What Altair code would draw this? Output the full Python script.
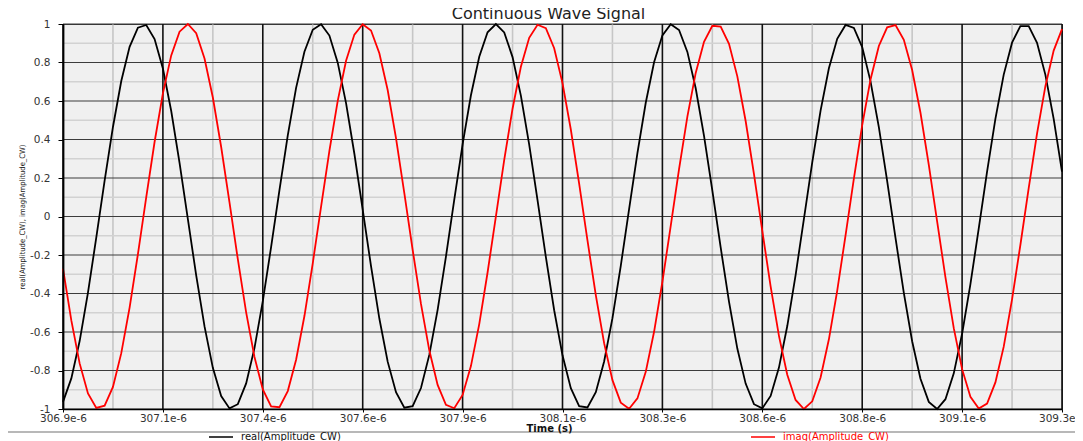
import altair as alt
import pandas as pd

# sample times in microseconds (20 ns sampling)
time_us = [
    306.90, 306.92, 306.94, 306.96, 306.98, 307.00, 307.02, 307.04, 307.06, 307.08,
    307.10, 307.12, 307.14, 307.16, 307.18, 307.20, 307.22, 307.24, 307.26, 307.28,
    307.30, 307.32, 307.34, 307.36, 307.38, 307.40, 307.42, 307.44, 307.46, 307.48,
    307.50, 307.52, 307.54, 307.56, 307.58, 307.60, 307.62, 307.64, 307.66, 307.68,
    307.70, 307.72, 307.74, 307.76, 307.78, 307.80, 307.82, 307.84, 307.86, 307.88,
    307.90, 307.92, 307.94, 307.96, 307.98, 308.00, 308.02, 308.04, 308.06, 308.08,
    308.10, 308.12, 308.14, 308.16, 308.18, 308.20, 308.22, 308.24, 308.26, 308.28,
    308.30, 308.32, 308.34, 308.36, 308.38, 308.40, 308.42, 308.44, 308.46, 308.48,
    308.50, 308.52, 308.54, 308.56, 308.58, 308.60, 308.62, 308.64, 308.66, 308.68,
    308.70, 308.72, 308.74, 308.76, 308.78, 308.80, 308.82, 308.84, 308.86, 308.88,
    308.90, 308.92, 308.94, 308.96, 308.98, 309.00, 309.02, 309.04, 309.06, 309.08,
    309.10, 309.12, 309.14, 309.16, 309.18, 309.20, 309.22, 309.24, 309.26, 309.28,
    309.30,
]

real_vals = [
    -0.963, -0.841, -0.647, -0.395, -0.109, 0.186, 0.465, 0.704, 0.881, 0.981,
    0.995, 0.922, 0.769, 0.548, 0.279, -0.014, -0.306, -0.571, -0.786, -0.933,
    -0.997, -0.975, -0.867, -0.684, -0.440, -0.158, 0.137, 0.421, 0.668, 0.856,
    0.970, 0.999, 0.940, 0.799, 0.589, 0.326, 0.036, -0.258, -0.530, -0.754,
    -0.913, -0.993, -0.985, -0.891, -0.719, -0.485, -0.208, 0.088, 0.375, 0.630,
    0.830, 0.957, 1.000, 0.956, 0.828, 0.628, 0.373, 0.085, -0.210, -0.487,
    -0.721, -0.892, -0.985, -0.992, -0.913, -0.753, -0.528, -0.256, 0.038, 0.329,
    0.591, 0.801, 0.941, 0.999, 0.969, 0.855, 0.666, 0.419, 0.135, -0.161,
    -0.442, -0.686, -0.868, -0.975, -0.997, -0.932, -0.785, -0.569, -0.304, -0.012,
    0.281, 0.550, 0.770, 0.923, 0.995, 0.980, 0.880, 0.702, 0.464, 0.184,
    -0.111, -0.397, -0.648, -0.843, -0.963, -1.000, -0.949, -0.815, -0.609, -0.351,
    -0.062, 0.233, 0.507, 0.737, 0.903, 0.989, 0.989, 0.902, 0.737, 0.507,
    0.233,
]

imag_vals = [
    -0.271, -0.540, -0.763, -0.919, -0.994, -0.983, -0.885, -0.710, -0.473, -0.195,
    0.101, 0.387, 0.640, 0.837, 0.960, 1.000, 0.952, 0.821, 0.618, 0.361,
    0.073, -0.222, -0.498, -0.730, -0.898, -0.987, -0.991, -0.907, -0.744, -0.517,
    -0.243, 0.051, 0.341, 0.601, 0.809, 0.945, 0.999, 0.966, 0.848, 0.657,
    0.407, 0.122, -0.173, -0.454, -0.695, -0.875, -0.978, -0.996, -0.927, -0.777,
    -0.559, -0.291, 0.001, 0.294, 0.560, 0.778, 0.928, 0.996, 0.978, 0.874,
    0.693, 0.452, 0.171, -0.124, -0.409, -0.658, -0.850, -0.967, -0.999, -0.945,
    -0.807, -0.599, -0.339, -0.049, 0.246, 0.519, 0.746, 0.908, 0.991, 0.987,
    0.897, 0.728, 0.496, 0.220, -0.075, -0.363, -0.620, -0.822, -0.953, -1.000,
    -0.960, -0.836, -0.638, -0.385, -0.098, 0.197, 0.475, 0.712, 0.886, 0.983,
    0.994, 0.918, 0.761, 0.539, 0.268, -0.025, -0.316, -0.580, -0.793, -0.937,
    -0.998, -0.972, -0.862, -0.676, -0.431, -0.148, 0.148, 0.431, 0.676, 0.862,
    0.973,
]

x_major = [306.9, 307.14, 307.38, 307.62, 307.86, 308.1, 308.34, 308.58, 308.82, 309.06, 309.3]
x_minor = [307.02, 307.26, 307.5, 307.74, 307.98, 308.22, 308.46, 308.7, 308.94, 309.18]
y_major = [-1, -0.8, -0.6, -0.4, -0.2, 0, 0.2, 0.4, 0.6, 0.8, 1]
y_minor = [-0.9, -0.7, -0.5, -0.3, -0.1, 0.1, 0.3, 0.5, 0.7, 0.9]

series_names = ["real(Amplitude_CW)", "imag(Amplitude_CW)"]
series_colors = ["#000000", "#ff0000"]
x_title = "Time (s)"
y_title = "real(Amplitude_CW), imag(Amplitude_CW)"

n = len(time_us)
df = pd.DataFrame({
    "t": time_us + time_us,
    "v": real_vals + imag_vals,
    "s": [series_names[0]] * n + [series_names[1]] * n,
})

xscale = alt.Scale(domain=[306.9, 309.3], nice=False, zero=False)
yscale = alt.Scale(domain=[-1, 1], nice=False, zero=False)

x_axis = alt.Axis(
    values=x_major, grid=False,
    labelExpr="format(datum.value, '.1f') + 'e-6'",
    labelFlush=False, labelOverlap=False,
    labelFont="DejaVu Sans", labelFontSize=10.5, labelColor="#333333",
    labelPadding=1, tickSize=3, tickColor="#000000",
    domainColor="#000000", domainWidth=1.6,
    titleFont="DejaVu Sans", titleFontSize=10, titleFontWeight="bold",
    titleColor="#111111", titleX=486, titleY=19,
    titleAlign="center", titleBaseline="middle", zindex=1,
)
y_axis = alt.Axis(
    values=y_major, grid=False,
    labelExpr="datum.value < 0 ? '-' + format(-datum.value, '.1~f') : format(datum.value, '.1~f')",
    labelFont="DejaVu Sans", labelFontSize=10.5, labelColor="#333333",
    labelPadding=8, tickSize=5, tickColor="#000000",
    domainColor="#000000", domainWidth=1.8,
    titleFont="Liberation Sans Narrow, DejaVu Sans Condensed, Liberation Sans",
    titleFontSize=7.6, titleFontWeight="normal", titleColor="#222222",
    titleX=-41, titleY=192.5, titleAngle=270,
    titleAlign="center", titleBaseline="middle", zindex=1,
)

def xenc(field):
    return alt.X(field, scale=xscale, axis=x_axis, title=x_title)

def yenc(field):
    return alt.Y(field, scale=yscale, axis=y_axis, title=y_title)

minor_v = alt.Chart(pd.DataFrame({"x": x_minor})).mark_rule(
    color="#c6c6c6", strokeWidth=1.6
).encode(x=xenc("x:Q"))

minor_h = alt.Chart(pd.DataFrame({"y": y_minor})).mark_rule(
    color="#d2d2d2", strokeWidth=1.6
).encode(y=yenc("y:Q"))

major_h = alt.Chart(pd.DataFrame({"y": y_major})).mark_rule(
    color="#3c3c3c", strokeWidth=1.2
).encode(y=yenc("y:Q"))

major_v = alt.Chart(pd.DataFrame({"x": x_major})).mark_rule(
    color="#111111", strokeWidth=1.6
).encode(x=xenc("x:Q"))

lines = alt.Chart(df).mark_line(strokeWidth=1.8).encode(
    x=xenc("t:Q"),
    y=yenc("v:Q"),
    color=alt.Color(
        "s:N",
        scale=alt.Scale(domain=series_names, range=series_colors),
        legend=alt.Legend(
            title=None, orient="none", legendX=145, legendY=400,
            direction="horizontal", symbolType="stroke", symbolSize=576,
            symbolStrokeWidth=1.5, labelFont="DejaVu Sans", labelFontSize=10,
            labelColor={"expr": "datum.label == 'imag(Amplitude_CW)' ? '#ff0000' : '#111111'"},
            labelOffset=7, columnPadding=407, padding=0,
        ),
    ),
)

sep = alt.Chart(pd.DataFrame({"a": [0]})).mark_rule(
    color="#a0a0a0", strokeWidth=1.6
).encode(x=alt.value(-57), x2=alt.value(1019), y=alt.value(408))

chart = alt.layer(minor_v, minor_h, major_h, major_v, lines, sep).properties(
    width=999, height=385,
    autosize=alt.AutoSizeParams(type="none"),
    padding={"left": 55, "top": 16, "right": 13, "bottom": 32},
    title=alt.TitleParams(
        "Continuous Wave Signal", font="DejaVu Sans", fontSize=16,
        fontWeight="normal", color="#222222", anchor="middle",
        dx=-14, dy=8, offset=5,
    ),
).configure_view(fill="#f0f0f0", stroke="#333333", strokeWidth=1)

chart.save("out.html", embed_options={"renderer": "svg", "actions": False})
